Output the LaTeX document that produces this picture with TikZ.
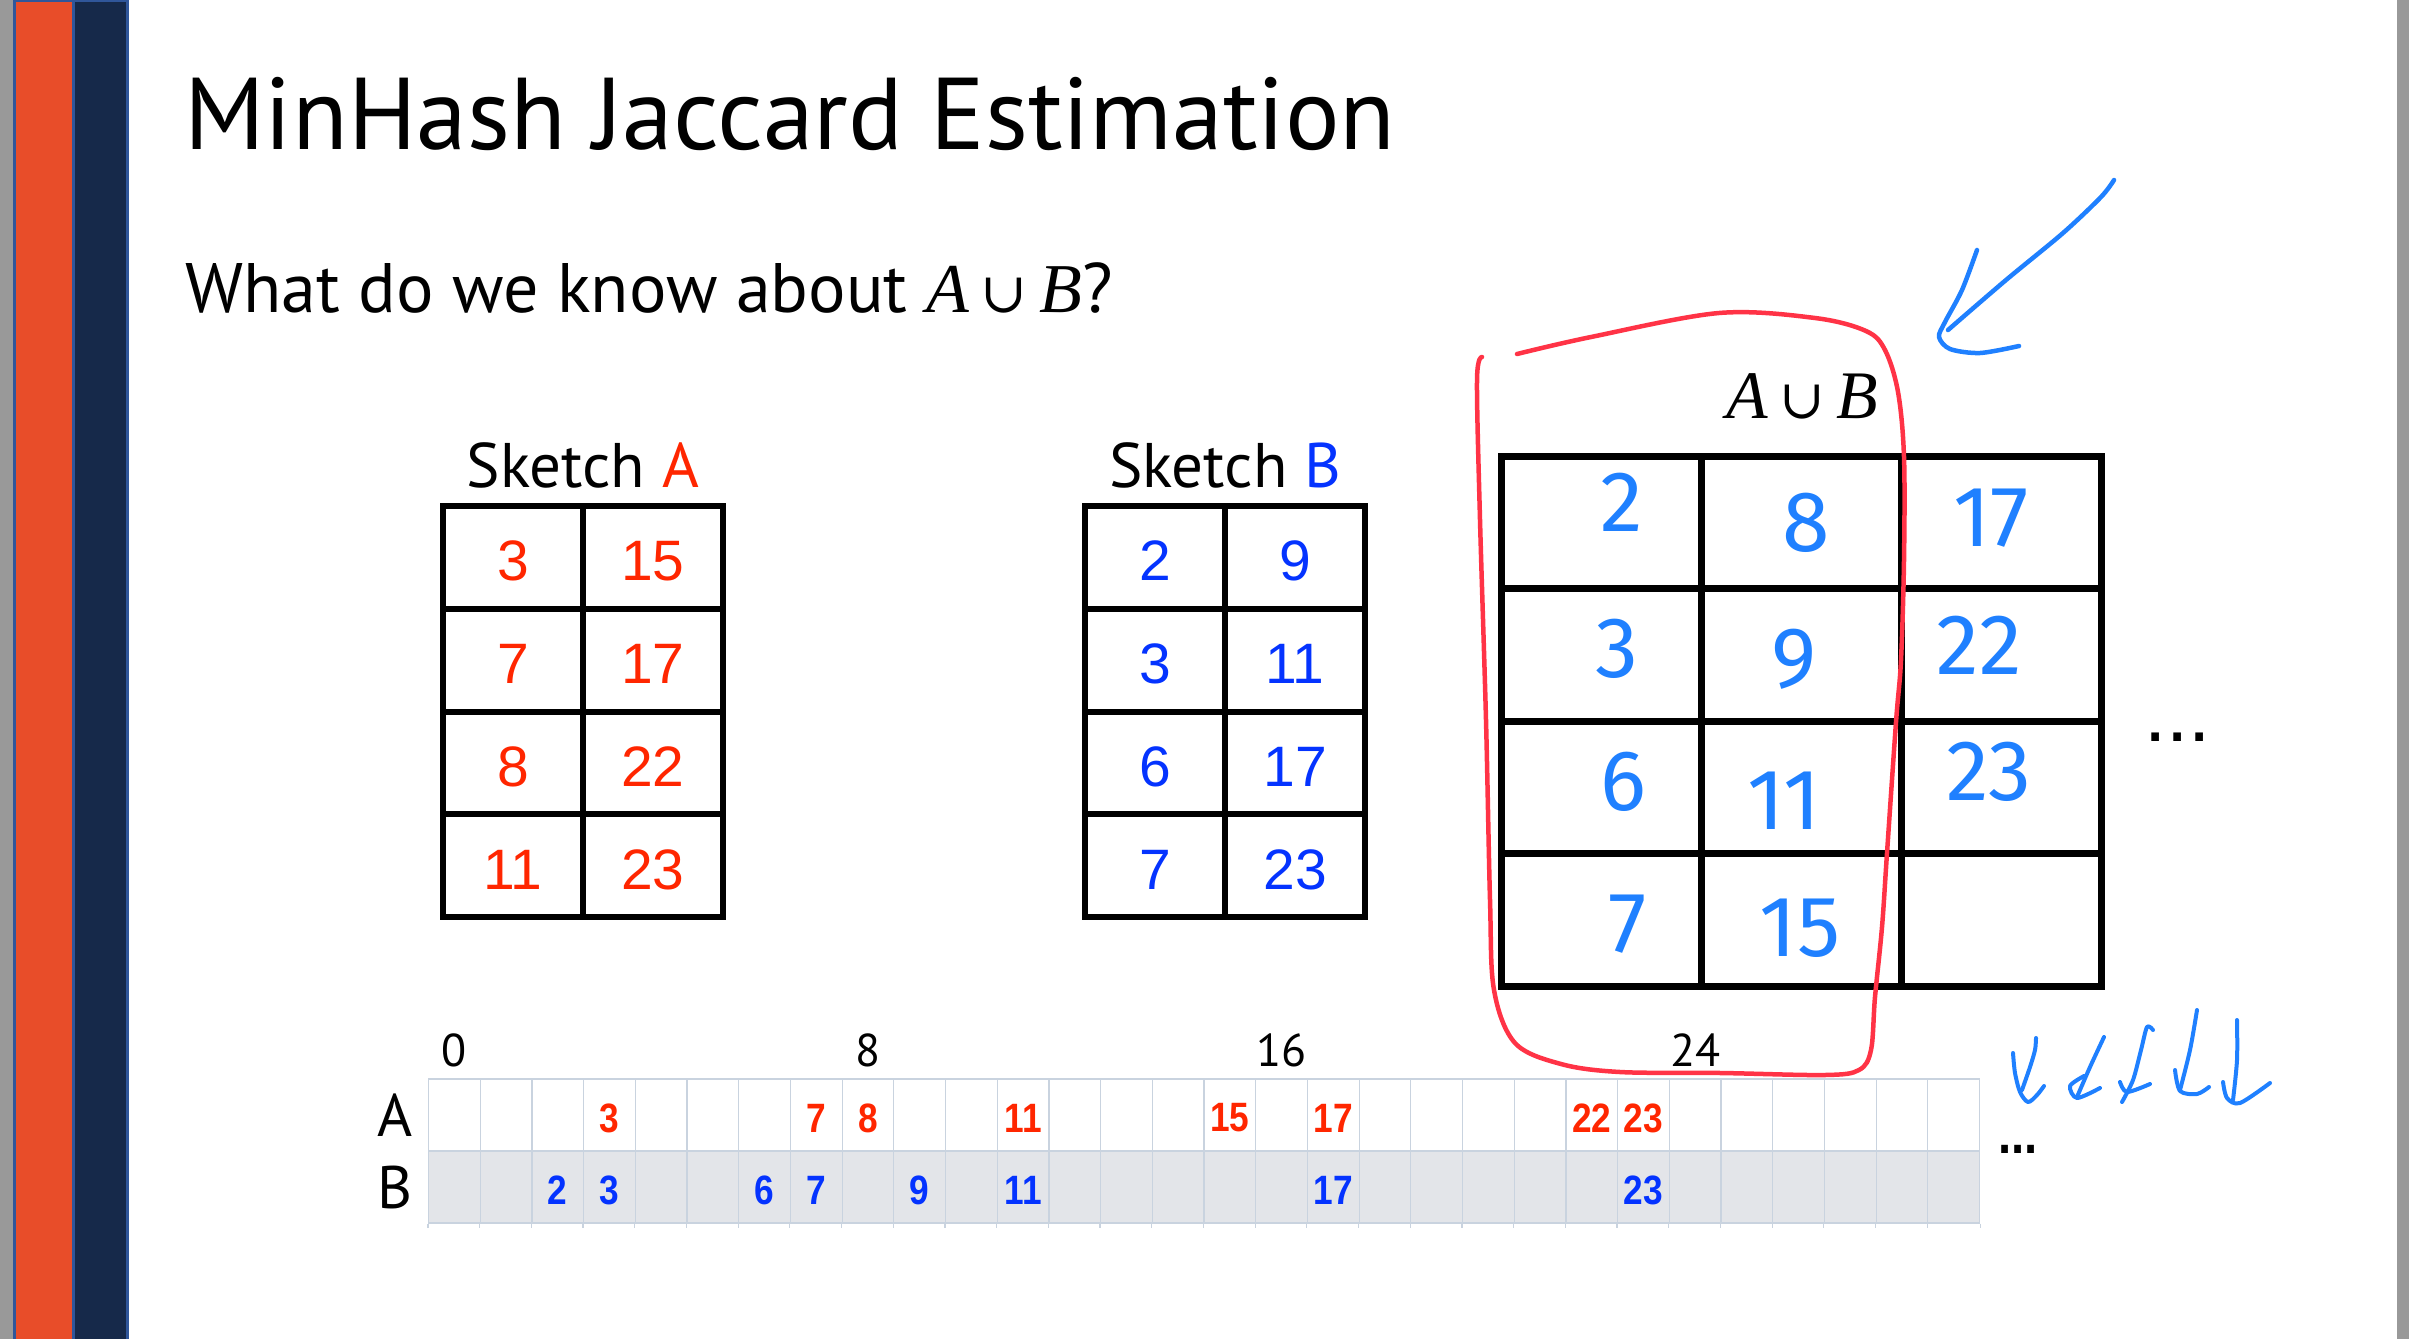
\documentclass[tikz,border=0pt]{standalone}
\usepackage{fontspec}
\setmainfont{PT Sans}
\newfontfamily\numfont{Liberation Sans}
\newfontfamily\stripfont{Liberation Sans}[FakeStretch=0.86]
\newfontfamily\serifmath{Liberation Serif}
\newfontfamily\cupfont{DejaVu Serif}
\newfontfamily\handfont{Fira Sans}
\usepackage{xcolor}
\usetikzlibrary{positioning}
\definecolor{keyred}{HTML}{FF2600}
\definecolor{keyblue}{HTML}{0433FF}
\definecolor{handblue}{HTML}{1F80FF}
\definecolor{handred}{HTML}{FF3346}
\definecolor{gridline}{HTML}{C9D3DF}
\definecolor{rowgray}{HTML}{E3E5E9}
\definecolor{barorange}{HTML}{E84D29}
\definecolor{barnavy}{HTML}{16294A}
\definecolor{barblue}{HTML}{30569A}
\definecolor{edgegray}{HTML}{999999}
\newcommand{\fsz}[1]{\fontsize{#1}{#1}\selectfont}
\newcommand{\aub}{{\serifmath\itshape A}\,{\cupfont\fontsize{0.8em}{0.8em}\selectfont ∪}\,{\serifmath\itshape B}}

\begin{document}
\begin{tikzpicture}[x=1pt, y=-1pt,
  lbl/.style={inner sep=0pt, anchor=base},
  cella/.style={draw, line width=6pt, minimum width=140pt, minimum height=102.75pt,
                inner sep=0pt, text height=47pt, text depth=0pt, font=\numfont\fsz{57}},
  cellu/.style={draw, line width=7pt, minimum width=200pt, minimum height=132.5pt, inner sep=0pt},
  slot/.style={draw=gridline, line width=1.2pt, minimum width=51.7pt, minimum height=72pt,
               inner sep=0pt, font=\stripfont\bfseries\fsz{41}},
  hand/.style={text=handblue, font=\handfont\fsz{86}, inner sep=0pt},
  pen/.style={line width=4.5pt, line cap=round, line join=round}]
\useasboundingbox (0,0) rectangle (2409,1339);
\fill[white] (0,0) rectangle (2409,1339);
\fill[edgegray] (0,0) rectangle (13,1339);
\fill[barblue] (13,0) rectangle (129,1339);
\fill[barorange] (16,2) rectangle (72,1339);
\fill[barnavy] (75,2) rectangle (126,1339);
\fill[edgegray] (2397,0) rectangle (2409,1339);

\node[inner sep=0pt, anchor=base west, font=\fsz{102}] (title) at (184,149) {MinHash Jaccard Estimation};
\node[inner sep=0pt, anchor=base west, font=\fsz{70}] (question) at (185,312) {What do we know about \aub?};

\foreach \r/\p/\q in {0/3/15,1/7/17,2/8/22,3/11/23} {
  \node[cella, text=keyred] (sa-\r-0) at (513,{557.4+102.75*\r}) {\p};
  \node[cella, text=keyred] (sa-\r-1) at (653,{557.4+102.75*\r}) {\q};
}
\foreach \r/\p/\q in {0/2/9,1/3/11,2/6/17,3/7/23} {
  \node[cella, text=keyblue] (sb-\r-0) at (1155,{557.4+102.75*\r}) {\p};
  \node[cella, text=keyblue] (sb-\r-1) at (1295,{557.4+102.75*\r}) {\q};
}
\node[lbl, font=\fsz{63}] (skA) at (583,487) {Sketch \textcolor{keyred}{A}};
\node[lbl, font=\fsz{63}] (skB) at (1225,487) {Sketch \textcolor{keyblue}{B}};

\foreach \r in {0,...,3}
  \foreach \c in {0,1,2}
    \node[cellu] (u-\r-\c) at ({1601+200*\c},{522.25+132.5*\r}) {};
\node[lbl, font=\fsz{68}] (ulab) at (1802,418) {\aub};
\node[inner sep=0pt, anchor=base west, font=\numfont\fsz{80}] (udots) at (2144,741) {...};
\foreach \r/\c/\v/\dx/\dy in {0/0/2/21/-20, 0/1/8/5/1, 0/2/17/-10/-4,
    1/0/3/16/-6, 1/1/9/-7/4, 1/2/22/-22/-9,
    2/0/6/22/-5, 2/1/11/-17/13, 2/2/23/-12/-15,
    3/0/7/27/4, 3/1/15/-1/8}
  \node[hand] (h-\r-\c) at ([shift={(\dx,\dy)}]u-\r-\c) {\v};

\foreach \k in {0,...,29} {
  \node[slot] (ta-\k) at ({454.35+51.7*\k},1115) {};
  \node[slot, fill=rowgray] (tb-\k) at ({454.35+51.7*\k},1187) {};
  \draw[gridline, line width=1.2pt] (tb-\k.south west) -- ++(0,4);
}
\draw[gridline, line width=1.2pt] (tb-29.south east) -- ++(0,4);
\foreach \k in {3,7,8,11,15,17,22,23}
  \node[text=keyred, font=\stripfont\bfseries\fsz{41}, inner sep=0pt] at ([shift={(0,3)}]ta-\k) {\k};
\foreach \k in {2,3,6,7,9,11,17,23}
  \node[text=keyblue, font=\stripfont\bfseries\fsz{41}, inner sep=0pt] at ([shift={(0,3)}]tb-\k) {\k};
\foreach \k in {0,8,16,24}
  \node[lbl, font=\fsz{46}] (ax-\k) at ([shift={(0,-12)}]ta-\k.north) {\k};
\node[left=15pt of ta-0, inner sep=0pt, font=\fsz{60}] (rowA) {A};
\node[left=15pt of tb-0, inner sep=0pt, font=\fsz{60}] (rowB) {B};
\node[inner sep=0pt, anchor=base west, font=\stripfont\bfseries\fsz{55}] (more) at ([shift={(18,3)}]tb-29.north east) {...};

\draw[pen, handred] plot[smooth, tension=0.55] coordinates {(1482,357) (1477,380) (1480,520)
  (1486,720) (1490,900) (1494,990) (1515,1043) (1561,1064) (1620,1072) (1721,1073) (1825,1075)
  (1859,1070) (1871,1050) (1875,997) (1882,927) (1887,853) (1896,722) (1901,660) (1904,560)
  (1904,457) (1898,392) (1885,350) (1866,331) (1815,318) (1719,313) (1591,337) (1517,354)};

\draw[pen, handblue] plot[smooth] coordinates {(2114,180) (2101,197) (2063,233) (2006,280) (1948,330)};
\draw[pen, handblue] plot[smooth] coordinates {(1977,250) (1962,290) (1945,322) (1939,337) (1950,349) (1980,353) (2019,346)};

\draw[pen, handblue, line width=4pt] plot[smooth] coordinates {(2013,1053) (2015,1073) (2020,1092) (2028,1102) (2037,1095) (2044,1086)};
\draw[pen, handblue, line width=4pt] plot[smooth] coordinates {(2036,1038) (2035,1050) (2030,1067) (2022,1090)};
\draw[pen, handblue, line width=4pt] plot[smooth] coordinates {(2104,1037) (2090,1067) (2077,1097)};
\draw[pen, handblue, line width=4pt] plot[smooth] coordinates {(2084,1076) (2070,1086) (2077,1098) (2100,1088)};
\draw[pen, handblue, line width=4pt] plot[smooth] coordinates {(2153,1030) (2147,1027) (2141,1050) (2133,1080) (2122,1102)};
\draw[pen, handblue, line width=4pt] plot[smooth] coordinates {(2120,1082) (2127,1092) (2150,1084)};
\draw[pen, handblue, line width=4pt] plot[smooth] coordinates {(2197,1010) (2190,1050) (2180,1090)};
\draw[pen, handblue, line width=4pt] plot[smooth] coordinates {(2175,1070) (2180,1091) (2197,1094) (2209,1087)};
\draw[pen, handblue, line width=4pt] plot[smooth] coordinates {(2237,1020) (2237,1060) (2233,1100)};
\draw[pen, handblue, line width=4pt] plot[smooth] coordinates {(2223,1082) (2227,1098) (2240,1103) (2270,1083)};
\end{tikzpicture}
\end{document}
